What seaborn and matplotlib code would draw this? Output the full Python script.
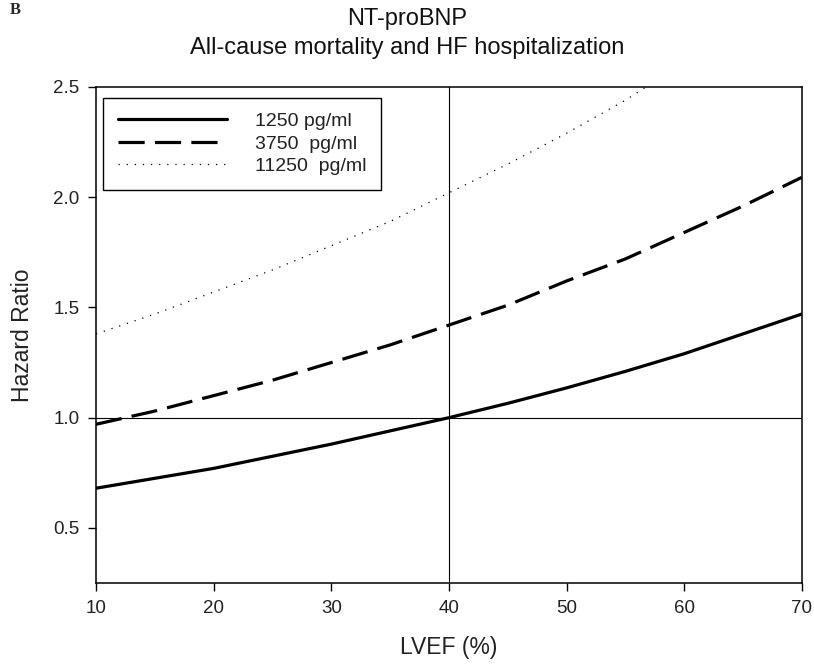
import matplotlib
matplotlib.use("Agg")
import matplotlib.pyplot as plt
import seaborn as sns
import pandas as pd

# LVEF (%) grid and hazard ratios
lvef = [10, 15, 20, 25, 30, 35, 40, 45, 50, 55, 60, 65, 70]
hr_1250 = [0.68, 0.725, 0.77, 0.825, 0.88, 0.94, 1.00, 1.065, 1.135, 1.21, 1.29, 1.38, 1.47]
hr_3750 = [0.97, 1.03, 1.10, 1.17, 1.25, 1.33, 1.42, 1.51, 1.62, 1.72, 1.84, 1.96, 2.09]
hr_11250 = [1.38, 1.47, 1.57, 1.67, 1.78, 1.89, 2.02, 2.15, 2.29, 2.44, 2.61, 2.78, 2.96]
labels = ["1250 pg/ml", "3750  pg/ml", "11250  pg/ml"]

x_ticks = [10, 20, 30, 40, 50, 60, 70]
y_ticks = [0.5, 1.0, 1.5, 2.0, 2.5]

sns.set_style("white")
plt.rcParams['font.family'] = ['Liberation Sans', 'DejaVu Sans']

fig = plt.figure(figsize=(8.14, 6.66), dpi=100)
ax = fig.add_axes([0.118, 0.1246, 0.867, 0.7448])

df = pd.DataFrame({"lvef": lvef, "a": hr_1250, "b": hr_3750, "c": hr_11250})

sns.lineplot(data=df, x="lvef", y="a", ax=ax, color="black", lw=2.3,
             linestyle="-", label=labels[0])
sns.lineplot(data=df, x="lvef", y="b", ax=ax, color="black", lw=2.3,
             linestyle=(0, (8.2, 3.2)), label=labels[1])
sns.lineplot(data=df, x="lvef", y="c", ax=ax, color="black", lw=0.9,
             linestyle=(0, (1, 5.5)), label=labels[2])

# reference lines
ax.axvline(40, color="black", lw=0.8, zorder=1)
ax.axhline(1.0, color="black", lw=0.8, zorder=1)

ax.set_xlim(10, 70)
ax.set_ylim(0.25, 2.5)
ax.set_xticks(x_ticks)
ax.set_yticks(y_ticks)
ax.set_xticklabels([str(v) for v in x_ticks])
ax.set_yticklabels([f"{v:.1f}" for v in y_ticks])
ax.tick_params(axis="both", direction="out", length=6, width=1, color="black",
               labelsize=13.5, labelcolor="#222222", pad=6,
               bottom=True, left=True)

for s in ax.spines.values():
    s.set_color("black")
    s.set_linewidth(1.1)

ax.set_xlabel("LVEF (%)", fontsize=16.5, color="#222222", labelpad=14)
ax.set_ylabel("Hazard Ratio", fontsize=16.5, color="#222222", labelpad=14)

leg = ax.legend(loc="upper left", bbox_to_anchor=(0.01, 0.978), fontsize=14,
                handlelength=5.6, handletextpad=1.45, labelspacing=0.25,
                borderpad=0.75, borderaxespad=0, fancybox=False, framealpha=1)
leg.get_frame().set_edgecolor("black")
leg.get_frame().set_linewidth(1.0)
for t in leg.get_texts():
    t.set_color("#222222")

fig.text(0.5, 0.955, "NT-proBNP", ha="center", va="bottom", fontsize=17, color="#111111")
fig.text(0.5, 0.912, "All-cause mortality and HF hospitalization", ha="center",
         va="bottom", fontsize=17, color="#111111")

fig.text(0.012, 0.997, "B", ha="left", va="top", fontsize=12, fontweight="bold",
         family=["Liberation Serif", "DejaVu Serif"])

fig.savefig("out.png", dpi=100)
